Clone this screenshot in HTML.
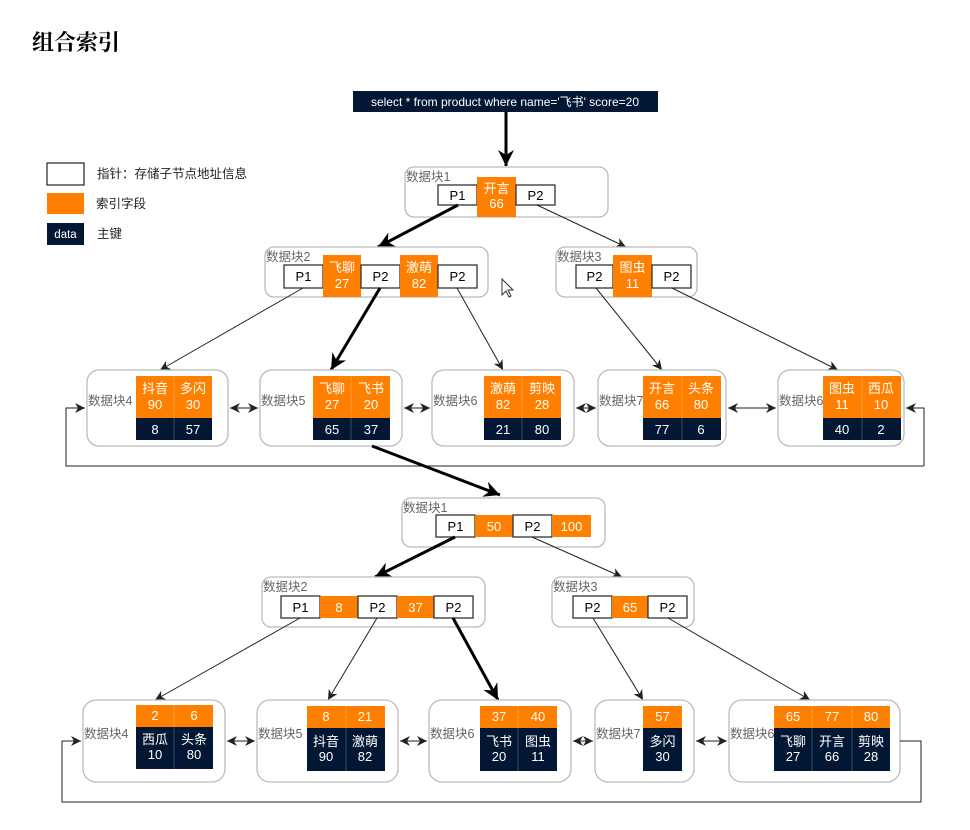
<!DOCTYPE html>
<html><head><meta charset="utf-8"><style>
html,body{margin:0;padding:0;background:#fff}
svg{display:block}
text{font-family:"Liberation Sans","Noto Sans CJK SC",sans-serif}
.lb{font-size:12.5px;fill:#666}
.w{font-size:13px;fill:#fff;text-anchor:middle}
.k{font-size:13px;fill:#000;text-anchor:middle}
.blk{fill:#fff;stroke:#bbb;stroke-width:1.3}
.p{fill:#fff;stroke:#333;stroke-width:1.3}
.o{fill:#ff8000}
.n{fill:#021733}
.t{stroke:#222;stroke-width:1;fill:none}
.T{stroke:#000;stroke-width:3;fill:none}
.sep{stroke:#3a4a66;stroke-width:1}
.sepo{stroke:#ff9a33;stroke-width:1}
</style></head><body>
<svg width="970" height="830" viewBox="0 0 970 830" xmlns="http://www.w3.org/2000/svg">
<defs>
<marker id="a" markerUnits="userSpaceOnUse" markerWidth="12" markerHeight="12" refX="10" refY="5" orient="auto"><path d="M0,0 L10,5 L0,10 L3,5 z" fill="#222"/></marker>
<marker id="A" markerUnits="userSpaceOnUse" markerWidth="18" markerHeight="18" refX="16" refY="8" orient="auto"><path d="M0,0 L16,8 L0,16 L5,8 z" fill="#000"/></marker>
<marker id="s" markerUnits="userSpaceOnUse" markerWidth="12" markerHeight="12" refX="0" refY="5" orient="auto"><path d="M10,0 L0,5 L10,10 L7,5 z" fill="#222"/></marker>
</defs>

<text x="32" y="50" style="font-size:22px;font-weight:bold;fill:#000;font-family:'Liberation Serif','Noto Serif CJK SC',serif">组合索引</text>

<rect x="353" y="91" width="305" height="21" class="n"/>
<text x="505" y="106" class="w" style="font-size:12px">select * from product where name='飞书' score=20</text>
<line x1="506" y1="112" x2="506" y2="166" class="T" marker-end="url(#A)"/>

<rect x="47" y="163" width="37" height="22" class="p"/>
<text x="97" y="178" style="font-size:12.5px;fill:#222">指针：存储子节点地址信息</text>
<rect x="47" y="193" width="37" height="21" class="o"/>
<text x="96" y="208" style="font-size:12.5px;fill:#222">索引字段</text>
<rect x="47" y="223" width="37" height="22" class="n"/>
<text x="65.5" y="238" class="w" style="font-size:11.5px">data</text>
<text x="97" y="238" style="font-size:12.5px;fill:#222">主键</text>

<!-- TOP TREE -->
<rect x="405" y="167" width="203" height="50" rx="9" class="blk"/>
<text x="406" y="181" class="lb">数据块1</text>
<rect x="438" y="185" width="39" height="20" class="p"/><text x="457.5" y="200" class="k">P1</text>
<rect x="477" y="177" width="39" height="40" class="o"/><text x="496.5" y="193" class="w">开言</text><text x="496.5" y="208" class="w">66</text>
<rect x="516" y="185" width="39" height="20" class="p"/><text x="535.5" y="200" class="k">P2</text>

<line x1="458" y1="205" x2="378" y2="247" class="T" marker-end="url(#A)"/>
<line x1="537" y1="205" x2="626" y2="247" class="t" marker-end="url(#a)"/>

<rect x="265" y="247" width="223" height="50" rx="9" class="blk"/>
<text x="266" y="261" class="lb">数据块2</text>
<rect x="284" y="265" width="39" height="23" class="p"/><text x="303.5" y="281" class="k">P1</text>
<rect x="323" y="255" width="38" height="42" class="o"/><text x="342" y="272" class="w">飞聊</text><text x="342" y="288" class="w">27</text>
<rect x="361" y="265" width="39" height="23" class="p"/><text x="380.5" y="281" class="k">P2</text>
<rect x="400" y="255" width="38" height="42" class="o"/><text x="419" y="272" class="w">激萌</text><text x="419" y="288" class="w">82</text>
<rect x="438" y="265" width="39" height="23" class="p"/><text x="457.5" y="281" class="k">P2</text>

<rect x="556" y="247" width="141" height="50" rx="9" class="blk"/>
<text x="557" y="261" class="lb">数据块3</text>
<rect x="576" y="265" width="37" height="23" class="p"/><text x="594.5" y="281" class="k">P2</text>
<rect x="613" y="255" width="39" height="42" class="o"/><text x="632.5" y="272" class="w">图虫</text><text x="632.5" y="288" class="w">11</text>
<rect x="652" y="265" width="39" height="23" class="p"/><text x="671.5" y="281" class="k">P2</text>

<path d="M502,279 L502,295 L506,291 L509,297 L511,296 L508,290 L513,290 z" fill="#fff" stroke="#333" stroke-width="1"/>

<line x1="303" y1="288" x2="160" y2="370" class="t" marker-end="url(#a)"/>
<line x1="380" y1="288" x2="331" y2="370" class="T" marker-end="url(#A)"/>
<line x1="457" y1="288" x2="503" y2="370" class="t" marker-end="url(#a)"/>
<line x1="596" y1="288" x2="662" y2="370" class="t" marker-end="url(#a)"/>
<line x1="672" y1="288" x2="838" y2="370" class="t" marker-end="url(#a)"/>

<rect x="87" y="370" width="141" height="76" rx="12" class="blk"/>
<text x="88" y="405" class="lb">数据块4</text>
<rect x="136" y="376" width="76" height="42" class="o"/><rect x="136" y="418" width="76" height="22" class="n"/>
<line x1="174" y1="376" x2="174" y2="418" class="sepo"/><line x1="174" y1="418" x2="174" y2="440" class="sep"/>
<text x="155" y="393" class="w">抖音</text><text x="155" y="409" class="w">90</text><text x="155" y="434" class="w">8</text>
<text x="193" y="393" class="w">多闪</text><text x="193" y="409" class="w">30</text><text x="193" y="434" class="w">57</text>

<rect x="260" y="370" width="142" height="76" rx="12" class="blk"/>
<text x="261" y="405" class="lb">数据块5</text>
<rect x="313" y="376" width="77" height="42" class="o"/><rect x="313" y="418" width="77" height="22" class="n"/>
<line x1="351" y1="376" x2="351" y2="418" class="sepo"/><line x1="351" y1="418" x2="351" y2="440" class="sep"/>
<text x="332" y="393" class="w">飞聊</text><text x="332" y="409" class="w">27</text><text x="332" y="434" class="w">65</text>
<text x="371" y="393" class="w">飞书</text><text x="371" y="409" class="w">20</text><text x="371" y="434" class="w">37</text>

<rect x="432" y="370" width="142" height="76" rx="12" class="blk"/>
<text x="433" y="405" class="lb">数据块6</text>
<rect x="484" y="376" width="77" height="42" class="o"/><rect x="484" y="418" width="77" height="22" class="n"/>
<line x1="522" y1="376" x2="522" y2="418" class="sepo"/><line x1="522" y1="418" x2="522" y2="440" class="sep"/>
<text x="503" y="393" class="w">激萌</text><text x="503" y="409" class="w">82</text><text x="503" y="434" class="w">21</text>
<text x="542" y="393" class="w">剪映</text><text x="542" y="409" class="w">28</text><text x="542" y="434" class="w">80</text>

<rect x="598" y="370" width="128" height="76" rx="12" class="blk"/>
<text x="599" y="405" class="lb">数据块7</text>
<rect x="643" y="376" width="78" height="42" class="o"/><rect x="643" y="418" width="78" height="22" class="n"/>
<line x1="682" y1="376" x2="682" y2="418" class="sepo"/><line x1="682" y1="418" x2="682" y2="440" class="sep"/>
<text x="662" y="393" class="w">开言</text><text x="662" y="409" class="w">66</text><text x="662" y="434" class="w">77</text>
<text x="701" y="393" class="w">头条</text><text x="701" y="409" class="w">80</text><text x="701" y="434" class="w">6</text>

<rect x="778" y="370" width="126" height="76" rx="12" class="blk"/>
<text x="779" y="405" class="lb">数据块6</text>
<rect x="823" y="376" width="78" height="42" class="o"/><rect x="823" y="418" width="78" height="22" class="n"/>
<line x1="862" y1="376" x2="862" y2="418" class="sepo"/><line x1="862" y1="418" x2="862" y2="440" class="sep"/>
<text x="842" y="393" class="w">图虫</text><text x="842" y="409" class="w">11</text><text x="842" y="434" class="w">40</text>
<text x="881" y="393" class="w">西瓜</text><text x="881" y="409" class="w">10</text><text x="881" y="434" class="w">2</text>

<line x1="230" y1="408" x2="258" y2="408" class="t" marker-start="url(#s)" marker-end="url(#a)"/>
<line x1="404" y1="408" x2="430" y2="408" class="t" marker-start="url(#s)" marker-end="url(#a)"/>
<line x1="576" y1="408" x2="596" y2="408" class="t" marker-start="url(#s)" marker-end="url(#a)"/>
<line x1="728" y1="408" x2="776" y2="408" class="t" marker-start="url(#s)" marker-end="url(#a)"/>
<polyline points="924,466 924,408 906,408" class="t" marker-end="url(#a)"/>
<polyline points="924,466 66,466 66,408 85,408" class="t" marker-end="url(#a)"/>

<line x1="372" y1="446" x2="500" y2="495" class="T" marker-end="url(#A)"/>

<!-- BOTTOM TREE -->
<rect x="402" y="498" width="203" height="49" rx="9" class="blk"/>
<text x="403" y="512" class="lb">数据块1</text>
<rect x="436" y="515" width="39" height="22" class="p"/><text x="455.5" y="531" class="k">P1</text>
<rect x="475" y="515" width="38" height="22" class="o"/><text x="494" y="531" class="w">50</text>
<rect x="513" y="515" width="39" height="22" class="p"/><text x="532.5" y="531" class="k">P2</text>
<rect x="552" y="515" width="39" height="22" class="o"/><text x="571.5" y="531" class="w">100</text>

<line x1="455" y1="537" x2="375" y2="577" class="T" marker-end="url(#A)"/>
<line x1="532" y1="537" x2="622" y2="577" class="t" marker-end="url(#a)"/>

<rect x="262" y="577" width="223" height="50" rx="9" class="blk"/>
<text x="263" y="591" class="lb">数据块2</text>
<rect x="281" y="596" width="39" height="22" class="p"/><text x="300.5" y="612" class="k">P1</text>
<rect x="320" y="596" width="38" height="22" class="o"/><text x="339" y="612" class="w">8</text>
<rect x="358" y="596" width="39" height="22" class="p"/><text x="377.5" y="612" class="k">P2</text>
<rect x="397" y="596" width="37" height="22" class="o"/><text x="415.5" y="612" class="w">37</text>
<rect x="434" y="596" width="39" height="22" class="p"/><text x="453.5" y="612" class="k">P2</text>

<rect x="552" y="577" width="142" height="50" rx="9" class="blk"/>
<text x="553" y="591" class="lb">数据块3</text>
<rect x="573" y="596" width="39" height="22" class="p"/><text x="592.5" y="612" class="k">P2</text>
<rect x="612" y="596" width="36" height="22" class="o"/><text x="630" y="612" class="w">65</text>
<rect x="648" y="596" width="39" height="22" class="p"/><text x="667.5" y="612" class="k">P2</text>

<line x1="300" y1="618" x2="155" y2="700" class="t" marker-end="url(#a)"/>
<line x1="377" y1="618" x2="328" y2="700" class="t" marker-end="url(#a)"/>
<line x1="453" y1="618" x2="498" y2="700" class="T" marker-end="url(#A)"/>
<line x1="593" y1="618" x2="643" y2="700" class="t" marker-end="url(#a)"/>
<line x1="668" y1="618" x2="810" y2="700" class="t" marker-end="url(#a)"/>

<rect x="83" y="700" width="142" height="82" rx="13" class="blk"/>
<text x="84" y="738" class="lb">数据块4</text>
<rect x="136" y="705" width="77" height="22" class="o"/><rect x="136" y="727" width="77" height="42" class="n"/>
<line x1="174" y1="705" x2="174" y2="727" class="sepo"/><line x1="174" y1="727" x2="174" y2="769" class="sep"/>
<text x="155" y="720" class="w">2</text><text x="155" y="744" class="w">西瓜</text><text x="155" y="759" class="w">10</text>
<text x="194" y="720" class="w">6</text><text x="194" y="744" class="w">头条</text><text x="194" y="759" class="w">80</text>

<rect x="257" y="700" width="141" height="82" rx="13" class="blk"/>
<text x="258" y="738" class="lb">数据块5</text>
<rect x="307" y="706" width="78" height="22" class="o"/><rect x="307" y="728" width="78" height="43" class="n"/>
<line x1="346" y1="706" x2="346" y2="728" class="sepo"/><line x1="346" y1="728" x2="346" y2="771" class="sep"/>
<text x="326" y="721" class="w">8</text><text x="326" y="746" class="w">抖音</text><text x="326" y="761" class="w">90</text>
<text x="365" y="721" class="w">21</text><text x="365" y="746" class="w">激萌</text><text x="365" y="761" class="w">82</text>

<rect x="429" y="700" width="142" height="82" rx="13" class="blk"/>
<text x="430" y="738" class="lb">数据块6</text>
<rect x="480" y="706" width="77" height="22" class="o"/><rect x="480" y="728" width="77" height="43" class="n"/>
<line x1="518" y1="706" x2="518" y2="728" class="sepo"/><line x1="518" y1="728" x2="518" y2="771" class="sep"/>
<text x="499" y="721" class="w">37</text><text x="499" y="746" class="w">飞书</text><text x="499" y="761" class="w">20</text>
<text x="538" y="721" class="w">40</text><text x="538" y="746" class="w">图虫</text><text x="538" y="761" class="w">11</text>

<rect x="595" y="700" width="99" height="82" rx="13" class="blk"/>
<text x="596" y="738" class="lb">数据块7</text>
<rect x="643" y="706" width="39" height="22" class="o"/><rect x="643" y="728" width="39" height="43" class="n"/>
<text x="662.5" y="721" class="w">57</text><text x="662.5" y="746" class="w">多闪</text><text x="662.5" y="761" class="w">30</text>

<rect x="729" y="700" width="171" height="82" rx="13" class="blk"/>
<text x="730" y="738" class="lb">数据块6</text>
<rect x="774" y="706" width="116" height="22" class="o"/><rect x="774" y="728" width="116" height="43" class="n"/>
<line x1="812" y1="706" x2="812" y2="728" class="sepo"/><line x1="812" y1="728" x2="812" y2="771" class="sep"/>
<line x1="852" y1="706" x2="852" y2="728" class="sepo"/><line x1="852" y1="728" x2="852" y2="771" class="sep"/>
<text x="793" y="721" class="w">65</text><text x="793" y="746" class="w">飞聊</text><text x="793" y="761" class="w">27</text>
<text x="832" y="721" class="w">77</text><text x="832" y="746" class="w">开言</text><text x="832" y="761" class="w">66</text>
<text x="871" y="721" class="w">80</text><text x="871" y="746" class="w">剪映</text><text x="871" y="761" class="w">28</text>

<line x1="227" y1="741" x2="255" y2="741" class="t" marker-start="url(#s)" marker-end="url(#a)"/>
<line x1="400" y1="741" x2="427" y2="741" class="t" marker-start="url(#s)" marker-end="url(#a)"/>
<line x1="573" y1="741" x2="593" y2="741" class="t" marker-start="url(#s)" marker-end="url(#a)"/>
<line x1="696" y1="741" x2="727" y2="741" class="t" marker-start="url(#s)" marker-end="url(#a)"/>
<polyline points="900,741 921,741 921,802 62,802 62,741 81,741" class="t" marker-end="url(#a)"/>
</svg>
</body></html>
